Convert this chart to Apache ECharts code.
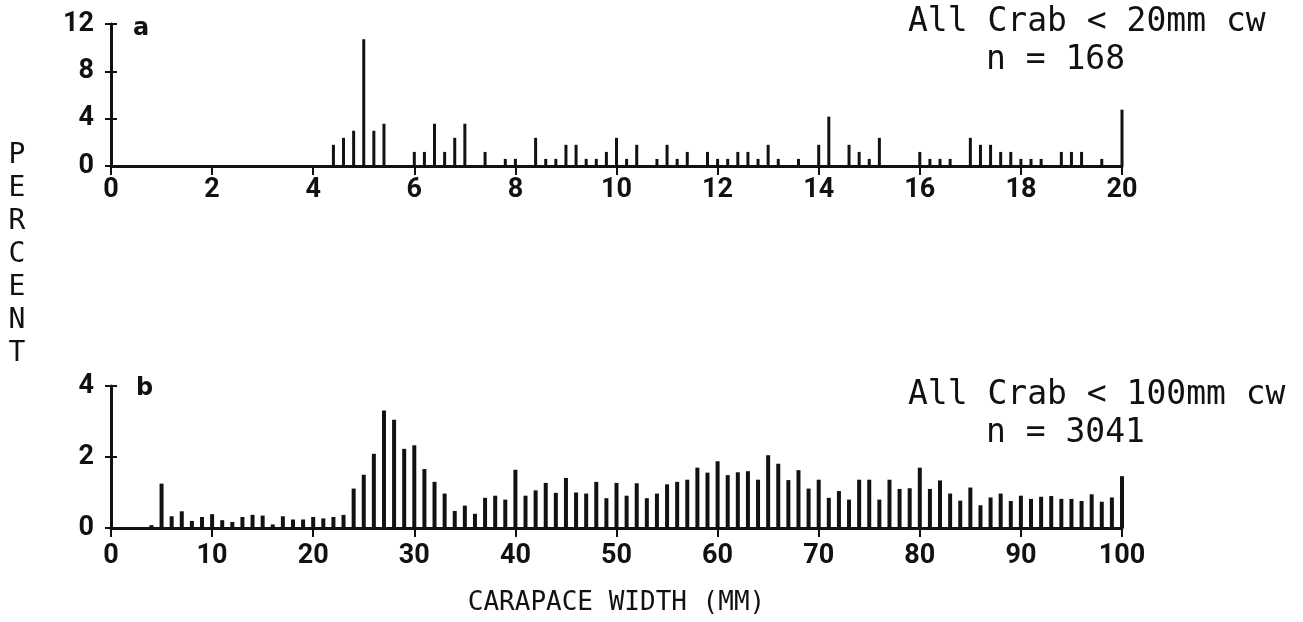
<!DOCTYPE html>
<html>
<head>
<meta charset="utf-8">
<title>Carapace width frequency</title>
<script src="https://cdn.jsdelivr.net/npm/echarts@6/dist/echarts.min.js"></script>
<style>
  html, body { margin: 0; padding: 0; background: #fff; }
  #chart { width: 1303px; height: 622px; }
</style>
</head>
<body>
<div id="chart"></div>
<script>
// Panel a: crabs under 20 mm carapace width, 0.2 mm classes (percent of n = 168)
const widthsA = [4.4, 4.6, 4.8, 5.0, 5.2, 5.4, 6.0, 6.2, 6.4, 6.6, 6.8, 7.0, 7.4, 7.8, 8.0,
  8.4, 8.6, 8.8, 9.0, 9.2, 9.4, 9.6, 9.8, 10.0, 10.2, 10.4, 10.8, 11.0, 11.2, 11.4,
  11.8, 12.0, 12.2, 12.4, 12.6, 12.8, 13.0, 13.2, 13.6, 14.0, 14.2, 14.6, 14.8, 15.0, 15.2,
  16.0, 16.2, 16.4, 16.6, 17.0, 17.2, 17.4, 17.6, 17.8, 18.0, 18.2, 18.4, 18.8, 19.0, 19.2,
  19.6, 20.0];
const percentA = [1.79, 2.38, 2.98, 10.71, 2.98, 3.57, 1.19, 1.19, 3.57, 1.19, 2.38, 3.57, 1.19, 0.60, 0.60,
  2.38, 0.60, 0.60, 1.79, 1.79, 0.60, 0.60, 1.19, 2.38, 0.60, 1.79, 0.60, 1.79, 0.60, 1.19,
  1.19, 0.60, 0.60, 1.19, 1.19, 0.60, 1.79, 0.60, 0.60, 1.79, 4.17, 1.79, 1.19, 0.60, 2.38,
  1.19, 0.60, 0.60, 0.60, 2.38, 1.79, 1.79, 1.19, 1.19, 0.60, 0.60, 0.60, 1.19, 1.19, 1.19,
  0.60, 4.76];

// Panel b: crabs under 100 mm carapace width, 1 mm classes (percent of n = 3041)
const widthsB = [4, 5, 6, 7, 8, 9, 10, 11, 12, 13, 14, 15, 16, 17, 18, 19, 20, 21, 22, 23,
  24, 25, 26, 27, 28, 29, 30, 31, 32, 33, 34, 35, 36, 37, 38, 39, 40, 41, 42, 43,
  44, 45, 46, 47, 48, 49, 50, 51, 52, 53, 54, 55, 56, 57, 58, 59, 60, 61, 62, 63,
  64, 65, 66, 67, 68, 69, 70, 71, 72, 73, 74, 75, 76, 77, 78, 79, 80, 81, 82, 83,
  84, 85, 86, 87, 88, 89, 90, 91, 92, 93, 94, 95, 96, 97, 98, 99, 100];
const percentB = [0.08, 1.25, 0.33, 0.47, 0.20, 0.31, 0.39, 0.22, 0.17, 0.31, 0.37, 0.35, 0.10, 0.33, 0.24, 0.24, 0.31, 0.27, 0.31, 0.37,
  1.11, 1.50, 2.09, 3.31, 3.05, 2.23, 2.33, 1.66, 1.30, 0.97, 0.48, 0.63, 0.40, 0.85, 0.91, 0.80, 1.64, 0.91, 1.06, 1.27,
  0.99, 1.41, 1.00, 0.97, 1.30, 0.84, 1.27, 0.91, 1.26, 0.84, 0.97, 1.23, 1.30, 1.36, 1.70, 1.56, 1.88, 1.49, 1.57, 1.60,
  1.36, 2.05, 1.81, 1.35, 1.63, 1.11, 1.36, 0.85, 1.04, 0.80, 1.36, 1.36, 0.80, 1.36, 1.10, 1.12, 1.70, 1.10, 1.34, 0.97,
  0.77, 1.14, 0.64, 0.86, 0.97, 0.76, 0.91, 0.82, 0.88, 0.90, 0.82, 0.82, 0.76, 0.95, 0.74, 0.86, 1.46];

const titleA = ['All Crab < 20mm cw', 'n = 168'];
const titleB = ['All Crab < 100mm cw', 'n = 3041'];
const yTitle = 'PERCENT';
const xTitle = 'CARAPACE WIDTH (MM)';

const INK = '#111';
const tickFont = "Roboto, 'DejaVu Sans', sans-serif";
const plotFont = "'DejaVu Sans Mono', 'Liberation Mono', monospace";

function xAxisCfg(grid, max, interval, margin, extra) {
  return Object.assign({
    type: 'value', gridIndex: grid, min: 0, max: max, interval: interval,
    axisLine: { show: true, onZero: false, lineStyle: { color: INK, width: 3 } },
    axisTick: { show: true, length: 9, lineStyle: { color: INK, width: 2 } },
    axisLabel: { color: INK, fontFamily: tickFont, fontWeight: 'bold', fontSize: 27, margin: margin },
    splitLine: { show: false }
  }, extra || {});
}
// Two y axes per panel share one scale: one draws line, labels and outer
// ticks, the other only inner ticks, so each tick crosses the axis line.
function yAxisCfg(grid, max, interval, inner) {
  return {
    type: 'value', gridIndex: grid, min: 0, max: max, interval: interval, position: 'left',
    axisLine: { show: !inner, lineStyle: { color: INK, width: 3 } },
    axisTick: { show: true, inside: inner, length: 6, lineStyle: { color: INK, width: 2 } },
    axisLabel: { show: !inner, color: INK, fontFamily: tickFont, fontWeight: 'bold', fontSize: 27, margin: 17 },
    splitLine: { show: false }
  };
}

const pairsA = widthsA.map((w, i) => [w, percentA[i]]);
const pairsB = widthsB.map((w, i) => [w, percentB[i]]);

const chart = echarts.init(document.getElementById('chart'), null, { renderer: 'canvas' });
chart.setOption({
  backgroundColor: '#fff',
  animation: false,
  grid: [
    { left: 111, top: 24, width: 1011, height: 142 },
    { left: 111, top: 386, width: 1011, height: 142 }
  ],
  xAxis: [
    xAxisCfg(0, 20, 2, 11),
    xAxisCfg(1, 100, 10, 15, {
      name: xTitle, nameLocation: 'middle', nameGap: 62,
      nameTextStyle: { color: INK, fontFamily: plotFont, fontSize: 26 }
    })
  ],
  yAxis: [
    yAxisCfg(0, 12, 4, false),
    yAxisCfg(0, 12, 4, true),
    yAxisCfg(1, 4, 2, false),
    yAxisCfg(1, 4, 2, true)
  ],
  series: [
    { type: 'bar', xAxisIndex: 0, yAxisIndex: 0, data: pairsA, barWidth: 3,
      itemStyle: { color: INK }, silent: true },
    { type: 'bar', xAxisIndex: 1, yAxisIndex: 2, data: pairsB, barWidth: 4,
      itemStyle: { color: INK }, silent: true }
  ],
  graphic: [
    { type: 'text', x: 133, y: 29, style: { text: 'a', font: 'bold 24px "DejaVu Sans", sans-serif', fill: INK, textVerticalAlign: 'middle' } },
    { type: 'text', x: 136, y: 389, style: { text: 'b', font: 'bold 24px "DejaVu Sans", sans-serif', fill: INK, textVerticalAlign: 'middle' } },
    { type: 'text', x: 908, y: 22, style: { text: titleA[0], font: '33px ' + plotFont, fill: INK, textVerticalAlign: 'middle' } },
    { type: 'text', x: 986, y: 60, style: { text: titleA[1], font: '33px ' + plotFont, fill: INK, textVerticalAlign: 'middle' } },
    { type: 'text', x: 908, y: 395, style: { text: titleB[0], font: '33px ' + plotFont, fill: INK, textVerticalAlign: 'middle' } },
    { type: 'text', x: 986, y: 433, style: { text: titleB[1], font: '33px ' + plotFont, fill: INK, textVerticalAlign: 'middle' } },
    { type: 'text', x: 17, y: 255, style: {
        text: yTitle.split('').join('\n'), font: '28px ' + plotFont, lineHeight: 33,
        fill: INK, textAlign: 'center', textVerticalAlign: 'middle' } }
  ]
});
</script>
</body>
</html>
